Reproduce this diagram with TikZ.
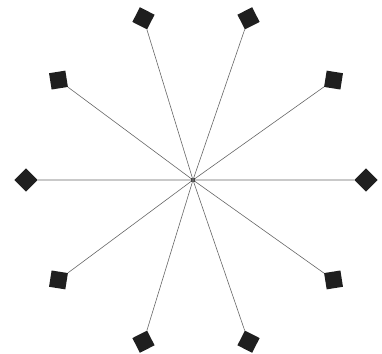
\documentclass[tikz,border=0pt]{standalone}
\begin{document}
\begin{tikzpicture}[x=1pt,y=-1pt,
  sq/.style={fill=black!88, draw=none, minimum size=16.5pt, inner sep=0pt, rectangle},
  spoke/.style={draw=black!60, line width=0.6pt}]
\useasboundingbox (0,0) rectangle (382,353);
\node[fill=black!90, minimum width=4pt, minimum height=3.5pt, inner sep=0pt] (h) at (193,180) {};
\foreach \i in {0,...,9}{
  \pgfmathsetmacro{\ang}{36*\i}
  \pgfmathsetmacro{\rot}{36*\i+45}
  \node[sq, rotate=\rot] (n\i) at ({196+170*cos(\ang)},{180-170*sin(\ang)}) {};
  \draw[spoke] (h.center) -- (n\i);
}
\end{tikzpicture}
\end{document}
